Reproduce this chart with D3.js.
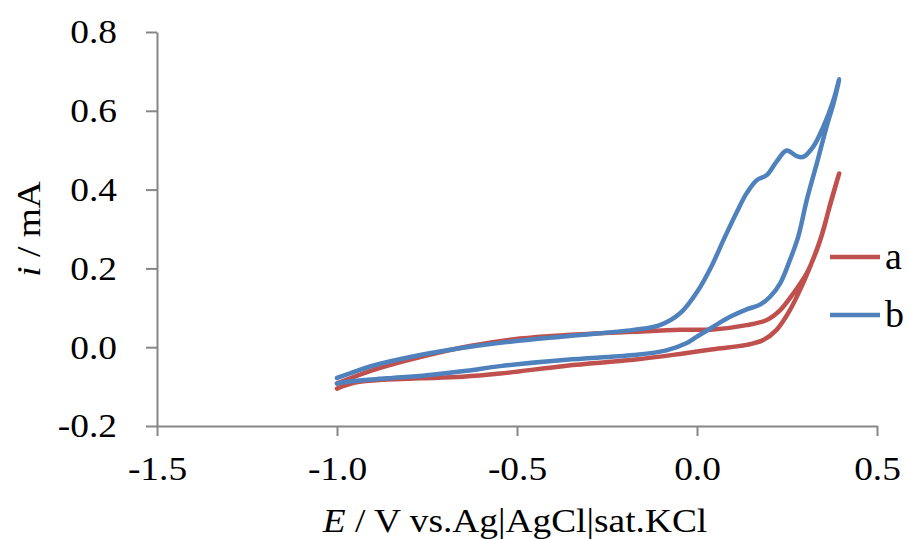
<!DOCTYPE html>
<html>
<head>
<meta charset="utf-8">
<script src="https://cdn.jsdelivr.net/npm/d3@7"></script>
<style>
  body { margin: 0; background: #fff; }
  text { font-family: "Liberation Serif", "Times New Roman", serif; fill: #000; }
</style>
</head>
<body>
<div id="chart"></div>
<script>
// potential E (V) and current i (mA), loop: start at -1.0, out along lower branch, back along upper
const curveA = [
    [-1.0, -0.105], [-0.95, -0.090], [-0.862, -0.082], [-0.769, -0.079], [-0.65, -0.075],
    [-0.547, -0.067], [-0.362, -0.047], [-0.177, -0.032], [-0.047, -0.017], [0.045, -0.005],
    [0.138, 0.006], [0.184, 0.018], [0.221, 0.044], [0.258, 0.094], [0.286, 0.145],
    [0.314, 0.204], [0.342, 0.272], [0.368, 0.355], [0.395, 0.441],
    [0.372, 0.370], [0.351, 0.297], [0.333, 0.247], [0.305, 0.188], [0.268, 0.137],
    [0.231, 0.094], [0.194, 0.069], [0.138, 0.056], [0.045, 0.045], [-0.047, 0.044],
    [-0.177, 0.039], [-0.362, 0.031], [-0.492, 0.022], [-0.631, 0.003], [-0.769, -0.025],
    [-0.9, -0.058], [-1.0, -0.092]
];
const curveB = [
    [-1.0, -0.092], [-0.955, -0.086], [-0.862, -0.079], [-0.75, -0.071], [-0.64, -0.060],
    [-0.547, -0.048], [-0.362, -0.032], [-0.177, -0.020], [-0.085, -0.008], [-0.03, 0.010],
    [0.0, 0.027], [0.045, 0.052], [0.092, 0.077], [0.138, 0.096], [0.175, 0.108],
    [0.203, 0.128], [0.231, 0.162], [0.258, 0.221], [0.281, 0.280], [0.305, 0.374],
    [0.333, 0.467], [0.360, 0.560], [0.379, 0.618], [0.395, 0.680],
    [0.379, 0.627], [0.351, 0.560], [0.323, 0.509], [0.295, 0.483], [0.277, 0.485],
    [0.249, 0.499], [0.221, 0.471], [0.194, 0.437], [0.166, 0.424], [0.138, 0.391],
    [0.110, 0.342], [0.075, 0.275], [0.040, 0.205], [0.0, 0.140], [-0.047, 0.086],
    [-0.103, 0.056], [-0.177, 0.044], [-0.362, 0.028], [-0.547, 0.011], [-0.631, 0.001],
    [-0.769, -0.020], [-0.908, -0.049], [-0.96, -0.065], [-1.0, -0.078]
];
const seriesNames = ["a", "b"];
const seriesColors = ["#C0504D", "#4F81BD"];
const xTicks = [-1.5, -1.0, -0.5, 0.0, 0.5];
const yTicks = [-0.2, 0.0, 0.2, 0.4, 0.6, 0.8];

const W = 908, H = 539;
const plot = { left: 157, right: 877, top: 32, bottom: 426 };
const stretch = 1.1; // text in the picture is a little wider than the font

const svg = d3.select("#chart").append("svg")
    .attr("width", W)
    .attr("height", H);

const x = d3.scaleLinear().domain([-1.5, 0.5]).range([plot.left, plot.right]);
const y = d3.scaleLinear().domain([-0.2, 0.8]).range([plot.bottom, plot.top]);

// axes
const xAxis = svg.append("g")
    .attr("transform", `translate(0,${plot.bottom})`)
    .call(d3.axisBottom(x).tickValues(xTicks).tickFormat(d => d.toFixed(1))
        .tickSize(10).tickSizeOuter(0).tickPadding(20));

const yAxis = svg.append("g")
    .attr("transform", `translate(${plot.left},0)`)
    .call(d3.axisLeft(y).tickValues(yTicks).tickFormat(d => d.toFixed(1))
        .tickSize(11).tickSizeOuter(0).tickPadding(28));

[xAxis, yAxis].forEach(g => {
    g.select(".domain").attr("stroke", "#868686").attr("stroke-width", 2);
    g.selectAll(".tick line").attr("stroke", "#868686").attr("stroke-width", 2);
    g.selectAll(".tick text")
        .attr("fill", "#000")
        .style("font-family", "'Liberation Serif', serif")
        .style("font-size", "34px");
});
xAxis.selectAll(".tick text").attr("transform", `scale(${stretch},1)`);
yAxis.selectAll(".tick text")
    .attr("x", -40 / stretch)
    .attr("transform", `scale(${stretch},1)`);

// curves
const line = d3.line()
    .x(d => x(d[0]))
    .y(d => y(d[1]))
    .curve(d3.curveCatmullRom.alpha(0.5));

[curveA, curveB].forEach((c, i) => {
    svg.append("path")
        .datum(c)
        .attr("fill", "none")
        .attr("stroke", seriesColors[i])
        .attr("stroke-width", 4.5)
        .attr("stroke-linejoin", "round")
        .attr("stroke-linecap", "round")
        .attr("d", line);
});

// legend
const legend = svg.append("g").attr("transform", "translate(830,257)");
seriesNames.forEach((name, i) => {
    const row = legend.append("g").attr("transform", `translate(0,${i * 58})`);
    row.append("line")
        .attr("x1", 0).attr("x2", 50)
        .attr("stroke", seriesColors[i])
        .attr("stroke-width", 4.5);
    row.append("text")
        .attr("x", 55).attr("y", 12)
        .style("font-size", "38px")
        .text(name);
});

// axis titles
const xTitle = svg.append("text")
    .attr("transform", `translate(515,532) scale(${stretch},1)`)
    .attr("text-anchor", "middle")
    .style("font-size", "34px");
xTitle.append("tspan").style("font-style", "italic").text("E");
xTitle.append("tspan").text(" / V vs.Ag|AgCl|sat.KCl");

const yTitle = svg.append("text")
    .attr("transform", `translate(40,229) rotate(-90) scale(${stretch},1)`)
    .attr("text-anchor", "middle")
    .style("font-size", "34px");
yTitle.append("tspan").style("font-style", "italic").text("i");
yTitle.append("tspan").text(" / mA");
</script>
</body>
</html>
